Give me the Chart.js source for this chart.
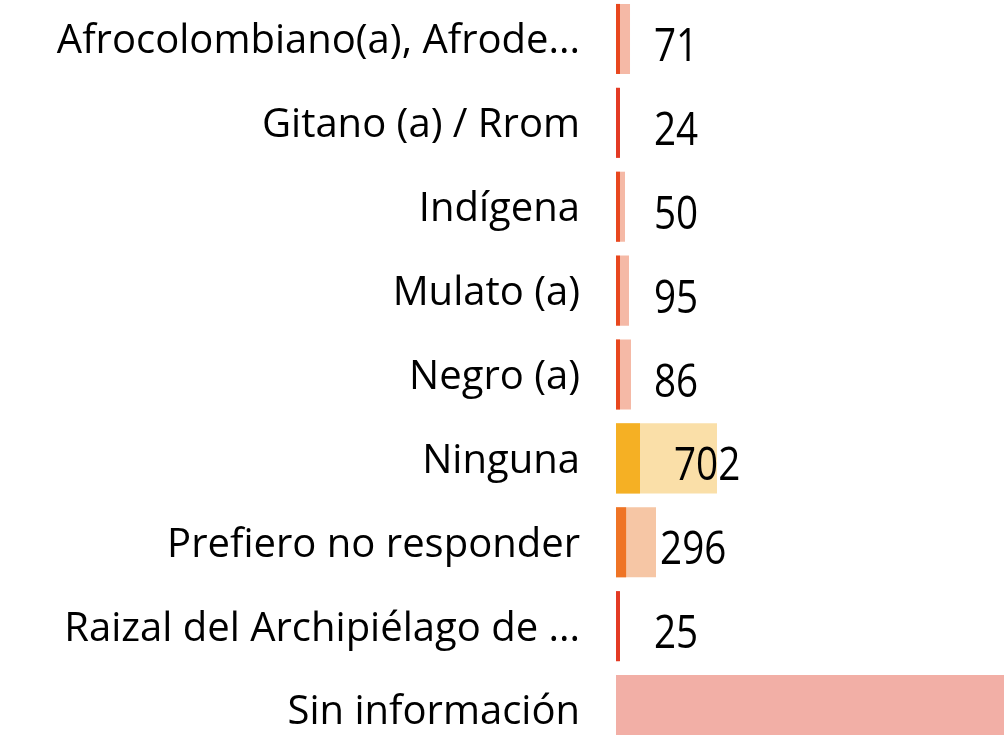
<!DOCTYPE html>
<html>
<head>
<meta charset="utf-8">
<script src="https://cdn.jsdelivr.net/npm/chart.js@4/dist/chart.umd.min.js"></script>
<style>
  html, body { margin: 0; padding: 0; background: #fff; overflow: hidden; }
  #wrap { position: absolute; left: 0; top: -3px; width: 1004px; height: 755px; }
</style>
</head>
<body>
<div id="wrap"><canvas id="chart"></canvas></div>
<script>
const categories = [
  "Afrocolombiano(a), Afrode...",
  "Gitano (a) / Rrom",
  "Indígena",
  "Mulato (a)",
  "Negro (a)",
  "Ninguna",
  "Prefiero no responder",
  "Raizal del Archipiélago de ...",
  "Sin información"
];
// counts shown as labels (dark bars)
const counts = [71, 24, 50, 95, 86, 702, 296, 25, null];
// second measure behind (light bars)
const totals = [410, 100, 263, 380, 439, 2954, 1170, 100, 14000];

const darkColors = ["#E8471E", "#E33A24", "#E8471E", "#E8471E", "#E8471E", "#F5B024", "#EF7425", "#E33A24", "#F2AFA6"];
const lightColors = ["#F5B9A6", "#F5B9A6", "#F5B9A6", "#F5B9A6", "#F5B9A6", "#FADFA8", "#F6C6A5", "#F5B9A6", "#F2AFA6"];

const fontFamily = '"Segoe UI", "Open Sans", "Noto Sans", sans-serif';

// draws the count next to the end of each dark bar (narrower, DIN-like digits)
const valueLabels = {
  id: "valueLabels",
  afterDatasetsDraw(chart) {
    const ctx = chart.ctx;
    const meta = chart.getDatasetMeta(0);
    ctx.save();
    ctx.fillStyle = "#000";
    ctx.font = '46px "Open Sans", sans-serif';
    ctx.textAlign = "left";
    ctx.textBaseline = "alphabetic";
    meta.data.forEach((bar, i) => {
      if (counts[i] == null) return;
      ctx.save();
      ctx.translate(bar.x + 34, bar.y + 22);
      ctx.scale(0.84, 1);
      ctx.fillText(String(counts[i]), 0, 0);
      ctx.restore();
    });
    ctx.restore();
  }
};

new Chart(document.getElementById("chart"), {
  type: "bar",
  data: {
    labels: categories,
    datasets: [
      {
        label: "Cantidad",
        data: counts,
        backgroundColor: darkColors,
        minBarLength: 4,
        barPercentage: 1,
        categoryPercentage: 0.835,
        order: 0
      },
      {
        label: "Total",
        data: totals,
        backgroundColor: lightColors,
        barPercentage: 1,
        categoryPercentage: 0.835,
        order: 1
      }
    ]
  },
  options: {
    indexAxis: "y",
    responsive: true,
    maintainAspectRatio: false,
    animation: false,
    layout: { padding: 0 },
    plugins: {
      legend: { display: false },
      tooltip: { enabled: false }
    },
    scales: {
      x: {
        display: false,
        stacked: false,
        min: 0,
        max: 11350
      },
      y: {
        stacked: true,
        grid: { display: false, drawTicks: false },
        border: { display: false },
        afterFit(scale) {
          scale.width = 616;
          scale.paddingTop = 0;
          scale.paddingBottom = 0;
        },
        ticks: {
          padding: 36,
          labelOffset: 3,
          color: "#000",
          font: { family: fontFamily, size: 40 }
        }
      }
    }
  },
  plugins: [valueLabels]
});
</script>
</body>
</html>
